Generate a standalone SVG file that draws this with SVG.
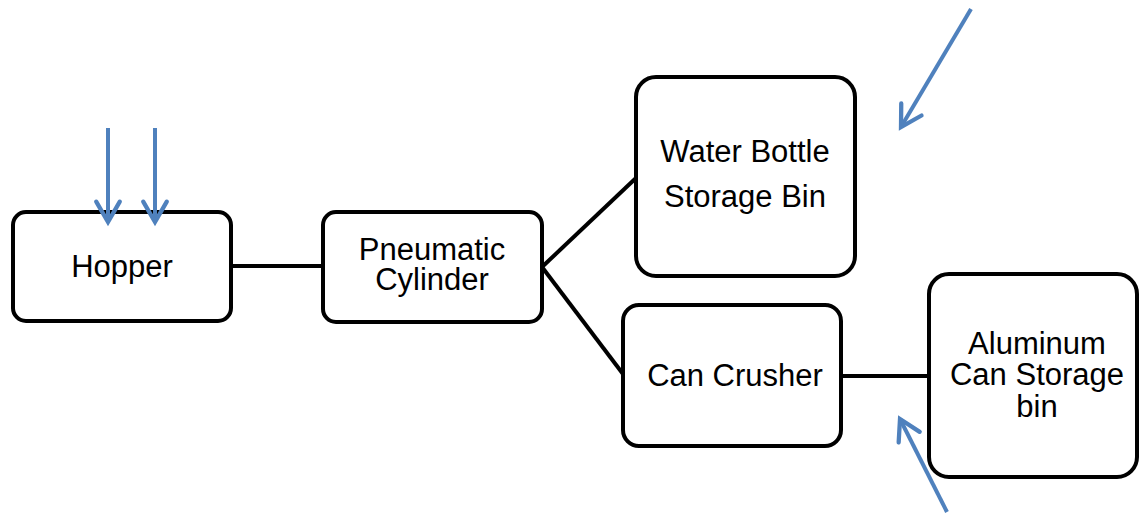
<svg xmlns="http://www.w3.org/2000/svg" width="1139" height="516" viewBox="0 0 1139 516">
<style>
.box{fill:#fff;stroke:#000;stroke-width:4}
.lbl{font-family:"Liberation Sans",Arial,sans-serif;font-size:31px;fill:#000;text-anchor:middle}
.conn{stroke:#000;stroke-width:4;fill:none}
.blue{stroke:#4F81BD;stroke-width:4;fill:none;marker-end:url(#ah)}
</style>
<defs>
<marker id="ah" markerUnits="userSpaceOnUse" markerWidth="30" markerHeight="30" viewBox="-24 -14 28 28" refX="0" refY="0" orient="auto" overflow="visible">
<path d="M-19,-11 L0,0 L-19,11" fill="none" stroke="#4F81BD" stroke-width="4" stroke-linecap="round" stroke-linejoin="miter"/>
</marker>
</defs>
<g id="connectors">
<line class="conn" x1="231" y1="266" x2="323" y2="266"/>
<line class="conn" x1="542" y1="267" x2="636" y2="178"/>
<line class="conn" x1="542" y1="267" x2="623" y2="374"/>
<line class="conn" x1="841" y1="376" x2="929" y2="376"/>
</g>
<g id="hopper">
<rect class="box" x="13" y="212" width="218" height="109" rx="13"/>
<text class="lbl" x="122" y="277">Hopper</text>
</g>
<g id="pneumatic">
<rect class="box" x="323" y="212" width="219" height="110" rx="13"/>
<text class="lbl" x="432" y="260">Pneumatic</text>
<text class="lbl" x="432" y="290">Cylinder</text>
</g>
<g id="water-bottle">
<rect class="box" x="636" y="77" width="219" height="199" rx="20"/>
<text class="lbl" x="745" y="162">Water Bottle</text>
<text class="lbl" x="745" y="207">Storage Bin</text>
</g>
<g id="can-crusher">
<rect class="box" x="623" y="305" width="218" height="141" rx="16"/>
<text class="lbl" x="735" y="386">Can Crusher</text>
</g>
<g id="aluminum">
<rect class="box" x="929" y="274" width="208" height="203" rx="20"/>
<text class="lbl" x="1037" y="354">Aluminum</text>
<text class="lbl" x="1037" y="385">Can Storage</text>
<text class="lbl" x="1037" y="417">bin</text>
</g>
<g id="inputs">
<line class="blue" x1="108" y1="128" x2="108" y2="222"/>
<line class="blue" x1="155" y1="128" x2="155" y2="222"/>
<line class="blue" x1="971" y1="9" x2="901" y2="127"/>
<line class="blue" x1="947" y1="512" x2="900" y2="419"/>
</g>
</svg>
